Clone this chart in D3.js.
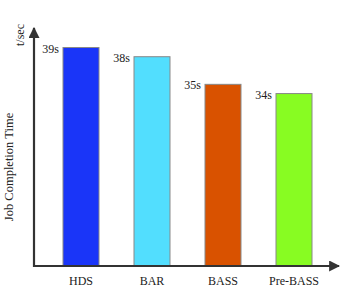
<!DOCTYPE html>
<html><head><meta charset="utf-8">
<script src="https://cdn.jsdelivr.net/npm/d3@7"></script>
<style>body{margin:0;background:#fff}svg{display:block}</style>
</head><body>
<script>
const categories = ["HDS", "BAR", "BASS", "Pre-BASS"];
const times = [39, 38, 35, 34];
const valueLabels = ["39s", "38s", "35s", "34s"];
const colors = ["#1a35f8", "#52defe", "#d95200", "#88fc22"];

const W = 349, H = 291;
const svg = d3.select("body").append("svg").attr("width", W).attr("height", H);
const x0 = 34, yBase = 266;
const x = d3.scaleBand().domain(categories).range([63, 312]).paddingInner(0.493).paddingOuter(0);
const y = d3.scaleLinear().domain([15.28, 39]).range([yBase, 47.5]);

const defs = svg.append("defs");
defs.append("marker").attr("id","arr").attr("viewBox","0 0 10 10").attr("refX",9).attr("refY",5)
  .attr("markerWidth",5).attr("markerHeight",5).attr("orient","auto").attr("markerUnits","strokeWidth")
  .append("path").attr("d","M0,0 L10,5 L0,10 Z").attr("fill","#333");

svg.selectAll("rect.bar").data(categories).join("rect").attr("class","bar")
  .attr("x", d => x(d)).attr("width", x.bandwidth())
  .attr("y", (d,i) => y(times[i])).attr("height", (d,i) => yBase - y(times[i]))
  .attr("fill", (d,i) => colors[i]).attr("stroke", "#888").attr("stroke-width", 1);

svg.selectAll("text.val").data(categories).join("text").attr("class","val")
  .attr("x", d => x(d) - 4).attr("y", (d,i) => y(times[i]) + 5)
  .attr("text-anchor","end").attr("font-family","Liberation Serif").attr("font-size",12)
  .attr("fill","#222").text((d,i) => valueLabels[i]);

const xAxis = d3.axisBottom(x).tickSize(0).tickPadding(10);
const gx = svg.append("g").attr("transform", `translate(0,${yBase})`).call(xAxis);
gx.select(".domain").remove();
gx.selectAll("text").attr("font-family","Liberation Serif").attr("font-size",12).attr("fill","#222");

svg.append("line").attr("x1", x0).attr("y1", yBase).attr("x2", 339).attr("y2", yBase)
  .attr("stroke","#333").attr("stroke-width",2.2).attr("marker-end","url(#arr)");
svg.append("line").attr("x1", x0).attr("y1", yBase + 1).attr("x2", x0).attr("y2", 28)
  .attr("stroke","#333").attr("stroke-width",2.2).attr("marker-end","url(#arr)");

svg.append("text").attr("transform","translate(24,35) rotate(-90)").attr("text-anchor","middle")
  .attr("font-family","Liberation Serif").attr("font-size",12).attr("fill","#222").text("t/sec");
svg.append("text").attr("transform","translate(13,167) rotate(-90)").attr("text-anchor","middle")
  .attr("font-family","Liberation Serif").attr("font-size",12.5).attr("fill","#222").text("Job Completion Time");
</script>
</body></html>
